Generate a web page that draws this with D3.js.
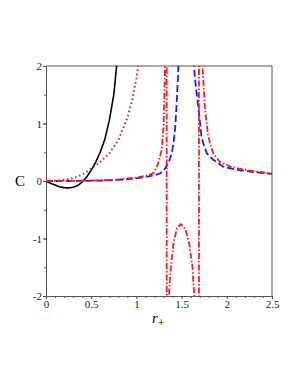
<!DOCTYPE html>
<html>
<head>
<meta charset="utf-8">
<script src="https://cdn.jsdelivr.net/npm/d3@7"></script>
<style>
  body { margin: 0; background: #fff; }
  svg { display: block; }
  text { font-family: "Liberation Serif", "DejaVu Serif", serif; }
</style>
</head>
<body>
<svg id="chart" width="300" height="388"></svg>
<script>
// values (r_+ , C)
const solidX = [0, 0.05, 0.1, 0.15, 0.2, 0.25, 0.3, 0.35, 0.4, 0.45, 0.5, 0.55, 0.6, 0.65, 0.7, 0.75, 0.8];
const solidY = [0, -0.04, -0.07, -0.1, -0.115, -0.12, -0.11, -0.08, -0.02, 0.07, 0.19, 0.33, 0.5, 0.72, 1.05, 1.5, 2.3];

const dotX = [0, 0.1, 0.2, 0.3, 0.4, 0.5, 0.6, 0.7, 0.8, 0.9, 0.95, 1.0, 1.04];
const dotY = [0, 0.005, 0.02, 0.05, 0.11, 0.21, 0.33, 0.48, 0.71, 1.1, 1.38, 1.78, 2.2];

const dashX = [0, 0.2, 0.4, 0.6, 0.8, 1.0, 1.1, 1.2, 1.26, 1.3, 1.33, 1.36, 1.39, 1.41, 1.43, 1.445, 1.46, 1.475,
  1.54, 1.61, 1.63, 1.65, 1.667, 1.697, 1.72, 1.75, 1.78, 1.85, 1.96, 2.13, 2.3, 2.5];
const dashY = [0, 0, 0.002, 0.008, 0.02, 0.045, 0.07, 0.1, 0.13, 0.18, 0.25, 0.34, 0.48, 0.65, 0.94, 1.35, 1.8, 2.5,
  40, 2.8, 2.1, 1.75, 1.52, 1.12, 0.77, 0.6, 0.48, 0.37, 0.25, 0.19, 0.155, 0.125];

const dashDotX = [0, 0.2, 0.4, 0.6, 0.8, 1.0, 1.1, 1.15, 1.19, 1.24, 1.28, 1.3, 1.31, 1.318, 1.326, 1.332,
  1.338, 1.345, 1.36, 1.38, 1.41, 1.446, 1.49, 1.54, 1.585, 1.62, 1.64, 1.66, 1.688,
  1.696, 1.71, 1.73, 1.76, 1.795, 1.85, 1.925, 2.04, 2.22, 2.5];
const dashDotY = [0, 0.001, 0.004, 0.01, 0.025, 0.06, 0.09, 0.11, 0.14, 0.3, 0.54, 0.94, 1.5, 2.1, 4, 60,
  -60, -6, -2, -1.5, -1.09, -0.83, -0.75, -0.83, -1.09, -1.5, -2, -4, -60,
  60, 5, 2, 1.23, 0.77, 0.48, 0.33, 0.25, 0.19, 0.13];

const xTicks = [0, 0.5, 1, 1.5, 2, 2.5];
const yTicks = [-2, -1, 0, 1, 2];

const svg = d3.select("#chart");
const margin = { left: 46, right: 28, top: 66, bottom: 92 };
const width = 300 - margin.left - margin.right;
const height = 388 - margin.top - margin.bottom;

const x = d3.scaleLinear().domain([0, 2.5]).range([0, width]);
const y = d3.scaleLinear().domain([-2, 2]).range([height, 0]);

const g = svg.append("g").attr("transform", `translate(${margin.left},${margin.top})`);

g.append("defs").append("clipPath").attr("id", "clip")
  .append("rect").attr("width", width).attr("height", height);

const axisColor = "#555";

// frame (top and right)
g.append("line").attr("x1", 0).attr("x2", width).attr("y1", 0).attr("y2", 0)
  .attr("stroke", axisColor);
g.append("line").attr("x1", width).attr("x2", width).attr("y1", 0).attr("y2", height)
  .attr("stroke", axisColor);

// minor ticks
const xMinor = d3.axisBottom(x).tickValues(d3.range(0, 2.51, 0.1)).tickSize(2).tickFormat("");
const yMinor = d3.axisLeft(y).tickValues(d3.range(-2, 2.01, 0.5)).tickSize(2).tickFormat("");
g.append("g").attr("transform", `translate(0,${height})`).call(xMinor);
g.append("g").call(yMinor);

const xAxis = g.append("g").attr("transform", `translate(0,${height})`)
  .call(d3.axisBottom(x).tickValues(xTicks).tickSize(3).tickPadding(1).tickFormat(d3.format("")));
const yAxis = g.append("g")
  .call(d3.axisLeft(y).tickValues(yTicks).tickSize(3).tickPadding(1).tickFormat(d => d < 0 ? "-" + (-d) : d));

g.selectAll(".domain, .tick line").attr("stroke", axisColor);
[xAxis, yAxis].forEach(a => a.selectAll("text")
  .attr("font-family", "Liberation Serif, serif").attr("font-size", 11).attr("fill", "#222"));

const line = d3.line().x(d => x(d[0])).y(d => y(d[1]));
const curves = g.append("g").attr("clip-path", "url(#clip)");

function draw(xs, ys, color, w, dash) {
  curves.append("path")
    .datum(d3.zip(xs, ys))
    .attr("d", line)
    .attr("fill", "none")
    .attr("stroke", color)
    .attr("stroke-width", w)
    .attr("stroke-dasharray", dash);
}

draw(solidX, solidY, "#000", 1.6, null);
draw(dotX, dotY, "#c0303a", 2, "1.6,2.6");
draw(dashX, dashY, "#1a1aff", 1.8, "7,3");
draw(dashDotX, dashDotY, "#ff1a1a", 1.8, "6,2,1.5,2");

// axis titles
svg.append("text").attr("x", 20).attr("y", 186).attr("text-anchor", "middle")
  .attr("font-size", 15).text("C");
const rl = svg.append("text").attr("x", 152).attr("y", 323).attr("font-size", 15);
rl.append("tspan").attr("font-style", "italic").text("r");
rl.append("tspan").attr("dy", 4).attr("font-size", 12).text("+");
</script>
</body>
</html>
